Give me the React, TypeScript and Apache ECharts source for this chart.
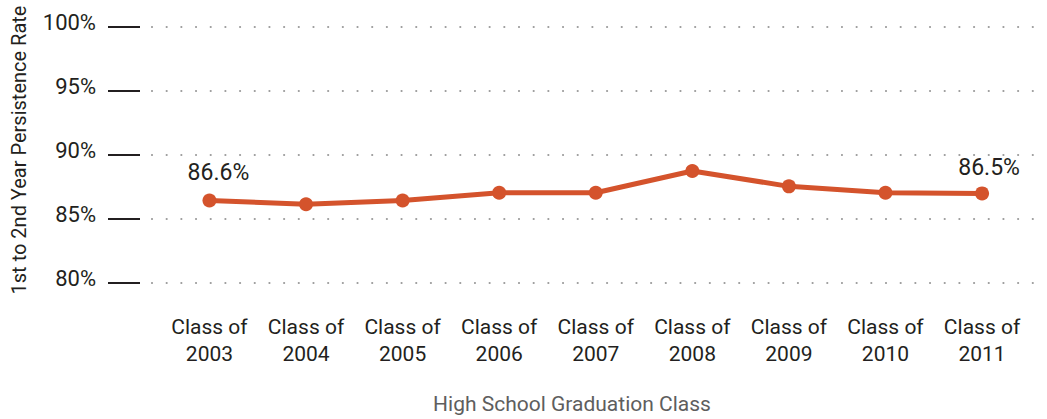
import React, { useEffect, useRef } from "react";
import * as echarts from "echarts";

const categories: string[] = [
  "Class of\n2003",
  "Class of\n2004",
  "Class of\n2005",
  "Class of\n2006",
  "Class of\n2007",
  "Class of\n2008",
  "Class of\n2009",
  "Class of\n2010",
  "Class of\n2011",
];
const persistence: number[] = [86.45, 86.15, 86.45, 87.05, 87.05, 88.75, 87.55, 87.05, 87.0];
const pointLabels: string[] = ["86.6%", "", "", "", "", "", "", "", "86.5%"];
const yTicks: number[] = [80, 85, 90, 95, 100];
const yTitle = "1st to 2nd Year Persistence Rate";
const xTitle = "High School Graduation Class";

const FONT = "Roboto, 'Open Sans', sans-serif";
const LINE_COLOR = "#d4532c";
const TEXT_COLOR = "#231f20";

export default function App() {
  const ref = useRef<HTMLDivElement>(null);

  useEffect(() => {
    if (!ref.current) return;
    const chart = echarts.init(ref.current, undefined, { renderer: "svg" });
    const labelOffsets: Record<number, number[]> = { 0: [9, 0], 8: [7, 2] };
    const data = persistence.map((v, i) => ({
      value: [i, v],
      label: {
        show: pointLabels[i] !== "",
        offset: labelOffsets[i] || [0, 0],
      },
    }));
    chart.setOption({
      animation: false,
      backgroundColor: "#ffffff",
      textStyle: { fontFamily: FONT },
      grid: { left: 152, right: 7, top: 27, height: 256, containLabel: false },
      xAxis: {
        type: "value",
        min: -0.595,
        max: 8.6,
        axisLine: { show: false, onZero: false },
        axisTick: { show: false },
        splitLine: { show: false },
        axisLabel: {
          customValues: categories.map((_, i) => i),
          formatter: (v: number) => categories[Math.round(v)] ?? "",
          color: TEXT_COLOR,
          fontFamily: FONT,
          fontSize: 21,
          lineHeight: 27,
          margin: 30,
          showMinLabel: true,
          showMaxLabel: true,
        },
      },
      yAxis: {
        type: "value",
        min: yTicks[0],
        max: yTicks[yTicks.length - 1],
        interval: 5,
        offset: 12,
        axisLine: { show: false, onZero: false },
        axisTick: {
          show: true,
          length: 32,
          lineStyle: { color: TEXT_COLOR, width: 2 },
        },
        axisLabel: {
          formatter: (v: number) => `${v}%`,
          color: TEXT_COLOR,
          fontFamily: FONT,
          fontSize: 22,
          margin: 44,
          verticalAlign: "bottom",
          lineHeight: 9,
        },
        splitLine: {
          show: true,
          lineStyle: {
            color: "#9a9a9a",
            width: 2.2,
            type: [0.01, 14.67],
            cap: "round",
          },
        },
      },
      graphic: [
        {
          type: "text",
          x: 19,
          y: 150,
          rotation: Math.PI / 2,
          style: {
            text: yTitle,
            fill: TEXT_COLOR,
            font: `20px ${FONT}`,
            align: "center",
            verticalAlign: "middle",
          },
        },
        {
          type: "text",
          x: 572,
          y: 404,
          style: {
            text: xTitle,
            fill: "#5e5e5e",
            font: `21px ${FONT}`,
            align: "center",
            verticalAlign: "middle",
          },
        },
      ],
      series: [
        {
          type: "line",
          data,
          symbol: "circle",
          symbolSize: 14,
          lineStyle: { color: LINE_COLOR, width: 5 },
          itemStyle: { color: LINE_COLOR },
          label: {
            position: "top",
            distance: 9,
            color: TEXT_COLOR,
            fontFamily: FONT,
            fontSize: 23,
            formatter: (p: any) => pointLabels[p.dataIndex],
          },
        },
      ],
    });
    return () => chart.dispose();
  }, []);

  return (
    <div
      ref={ref}
      style={{ position: "fixed", left: 0, top: 0, width: 1047, height: 419, background: "#fff" }}
    />
  );
}
